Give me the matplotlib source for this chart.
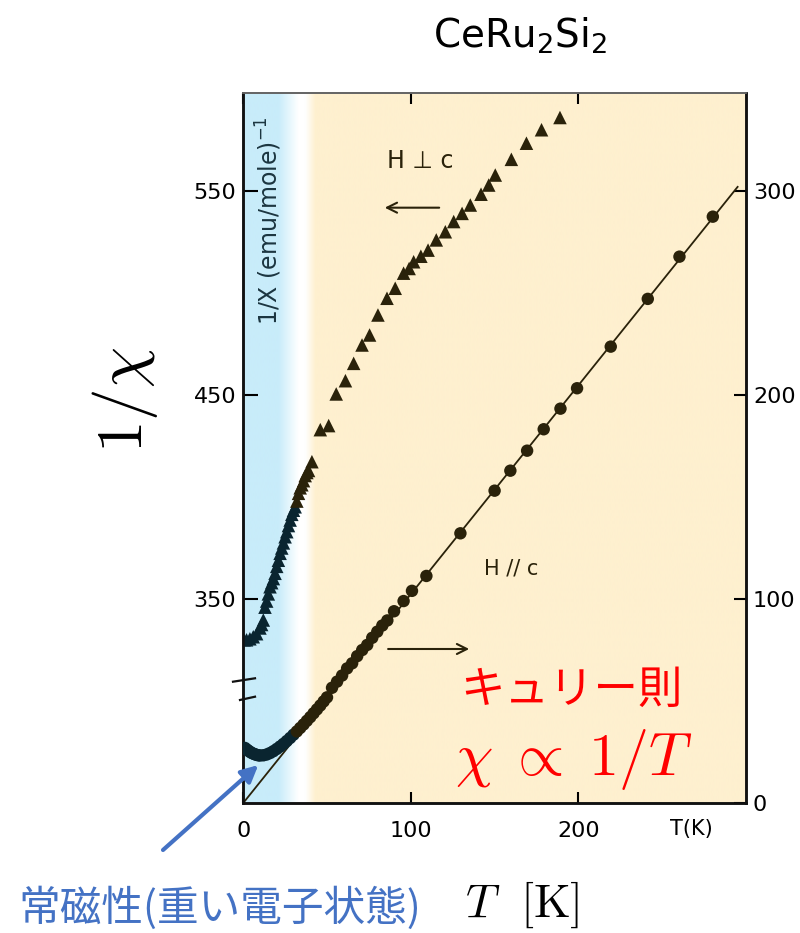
"""
CeRu2Si2 inverse susceptibility vs temperature (scanned figure recreation)
"""

import matplotlib.pyplot as plt
import numpy as np
from matplotlib.colors import to_rgb
from matplotlib.lines import Line2D

# H // c, right axis (1/chi), circles
para_T = [1, 2, 3, 4, 5, 6, 7, 8, 9, 10, 12, 14, 16, 18, 20, 22, 24, 26, 28,
          30, 32, 34, 36, 38, 40, 42, 44, 46, 48, 50, 53, 56, 59, 62, 65, 68,
          71, 74, 77, 80, 83, 86, 90, 95.7, 100.7, 109.3, 129.6, 150, 159.4,
          169.4, 179.3, 189.3, 199.2, 219.3, 241.4, 260.3, 280.2]
para_inv = [27, 26.3, 25.7, 25.1, 24.6, 24.2, 23.9, 23.6, 23.4, 23.3, 23.4,
            23.8, 24.5, 25.4, 26.5, 27.7, 29, 30.4, 31.9, 33.5, 35.1, 36.8,
            38.5, 40.3, 42.1, 44, 45.9, 47.8, 49.8, 51.8, 56.5, 59.5, 62.5,
            66, 68.5, 72, 75, 77.5, 81, 84, 87, 89.5, 94, 99, 104, 111.3,
            132.2, 153.1, 162.9, 172.7, 183.2, 193.3, 203.3, 223.7, 247.1,
            267.8, 287.4]

# Curie law line drawn through the origin
curie_T = [0, 295]
curie_inv = [0, 302]

# H perp c, left axis (1/chi), triangles
perp_T = [0.5, 2, 4, 6, 8, 10, 11, 12, 13, 14, 15, 16, 17, 18, 19, 20, 21,
          22, 23, 24, 25, 26, 27, 28, 29, 30, 31, 32, 33, 34, 35, 36, 37, 38,
          39, 41, 46, 51, 55.5, 61, 65.9, 70.9, 75.4, 80.4, 85.8, 90.7, 95.7,
          99, 101.7, 106, 110.3, 115.2, 120.6, 125.6, 130.6, 135.5, 141.9,
          146.5, 150.4, 160, 169, 178, 189]
perp_inv = [330, 330, 330.5, 331.5, 333, 335.8, 337.5, 339.7, 346, 349,
            352.5, 356, 358, 360, 362.6, 366, 369, 372.4, 375, 377.5, 380.5,
            383, 386, 388.7, 391.5, 393.5, 395.2, 398, 401.8, 404.5, 406,
            408, 410.5, 412, 413, 417.3, 433, 435, 450.5, 457, 465.5, 474.5,
            479.4, 489.2, 497.4, 502.3, 509.7, 512, 515.3, 518, 521, 526,
            530, 535, 539, 543.1, 548.4, 552.9, 557.8, 565.5, 573.4, 580, 586]

left_ticks = [350, 450, 550]
right_ticks = [0, 100, 200, 300]
x_ticks = [0, 100, 200]

ink = "#2a220a"
ink_cold = "#0a2530"

fig = plt.figure(figsize=(8, 9.33), dpi=100)
ax = fig.add_axes([0.304, 0.1393, 0.6285, 0.761])
ax2 = ax.twinx()

ax.set_xlim(0, 300)
ax.set_ylim(250, 598)
ax2.set_ylim(0, 348)

# background: blue (low T) -> white -> pale orange
stops = [(0, "#c8ecfa"), (21, "#c8ecfa"), (33, "#ffffff"), (37, "#ffffff"),
         (43, "#fef0cf"), (300, "#fef0cf")]
xs = np.linspace(0, 300, 600)
grad = np.zeros((1, len(xs), 3))
for i in range(3):
    grad[0, :, i] = np.interp(xs, [s[0] for s in stops],
                              [to_rgb(s[1])[i] for s in stops])
ax.imshow(grad, extent=[0, 300, 250, 598], aspect="auto", zorder=0,
          interpolation="bilinear")


def point_colours(T):
    return [ink_cold if t < 32 else ink for t in T]


ax.scatter(perp_T, perp_inv, marker="^", s=95, c=point_colours(perp_T),
           linewidths=0, zorder=3)
ax2.plot(curie_T, curie_inv, color=ink, linewidth=1.3, zorder=2)
ax2.scatter(para_T, para_inv, marker="o", s=80, c=point_colours(para_T),
            linewidths=0, zorder=3)

# ticks
ax.set_xticks(x_ticks)
ax.set_yticks(left_ticks)
ax2.set_yticks(right_ticks)
ax.tick_params(axis="y", direction="in", length=11, width=1.5, pad=5,
               labelsize=16)
ax.tick_params(axis="x", direction="in", length=8, width=1.5, pad=13,
               labelsize=16, top=True)
ax2.tick_params(axis="y", direction="in", length=9, width=1.5, pad=5,
                labelsize=16)

for a in (ax, ax2):
    for side in ["left", "right", "bottom"]:
        a.spines[side].set_linewidth(1.8)
        a.spines[side].set_color("#111111")
    a.spines["top"].set_linewidth(1.3)
    a.spines["top"].set_color("#666666")

# axis break marks on the left spine
for (x0, y0, x1, y1) in [(233, 681.7, 255, 678.3), (240, 700, 255, 696.7)]:
    fig.add_artist(Line2D([x0 / 800, x1 / 800], [1 - y0 / 933, 1 - y1 / 933],
                          color="#111111", linewidth=1.6))

# annotations inside the plot
ax2.text(105.7, 314.7, "H ⊥ c", fontsize=17, color=ink, ha="center",
         va="center")
ax2.text(160, 115, "H // c", fontsize=15, color=ink, ha="center",
         va="center")
ax2.annotate("", xy=(82.8, 291.8), xytext=(118.6, 291.8),
             arrowprops=dict(arrowstyle="->", color=ink, lw=1.5,
                             mutation_scale=18))
ax2.annotate("", xy=(136.5, 75.5), xytext=(84.8, 75.5),
             arrowprops=dict(arrowstyle="->", color=ink, lw=1.5,
                             mutation_scale=18))
fig.text(0.336, 0.764, "1/X (emu/mole)$^{-1}$", rotation=90, fontsize=17,
         color="#1b3540", ha="center", va="center")
fig.text(691 / 800, 1 - 829 / 933, "T(K)", fontsize=15, ha="center",
         va="center")

# title and axis labels
fig.text(0.65, 0.962, r"$\mathrm{CeRu_2Si_2}$", fontsize=28,
         math_fontfamily="dejavusans", ha="center", va="center")
fig.text(125 / 800, 1 - 400 / 933, r"$1/\chi$", rotation=90, fontsize=47,
         math_fontfamily="cm", ha="center", va="center")
fig.text(522 / 800, 1 - 905 / 933, r"$T\ \ [\mathrm{K}]$", fontsize=34,
         math_fontfamily="cm", ha="center", va="center")

fig.text(460 / 800, 1 - 690 / 933, "キュリー則", fontsize=32, color="red",
         family=["Noto Sans CJK JP", "DejaVu Sans"], ha="left", va="center")
fig.text(455 / 800, 1 - 760 / 933, r"$\chi\;\propto\;1/T$", fontsize=43,
         color="red", math_fontfamily="cm", ha="left", va="center")

fig.text(18 / 800, 1 - 908 / 933, "常磁性(重い電子状態)", fontsize=30,
         color="#4472c4", family=["Noto Sans CJK JP", "DejaVu Sans"],
         ha="left", va="center")
ax2.annotate("", xy=(9, 18.6), xytext=(163 / 800, 1 - 850 / 933),
             textcoords="figure fraction", annotation_clip=False,
             arrowprops=dict(arrowstyle="-|>", color="#4472c4", lw=3,
                             mutation_scale=25, shrinkA=0, shrinkB=0))

fig.savefig("out.png", dpi=100)
